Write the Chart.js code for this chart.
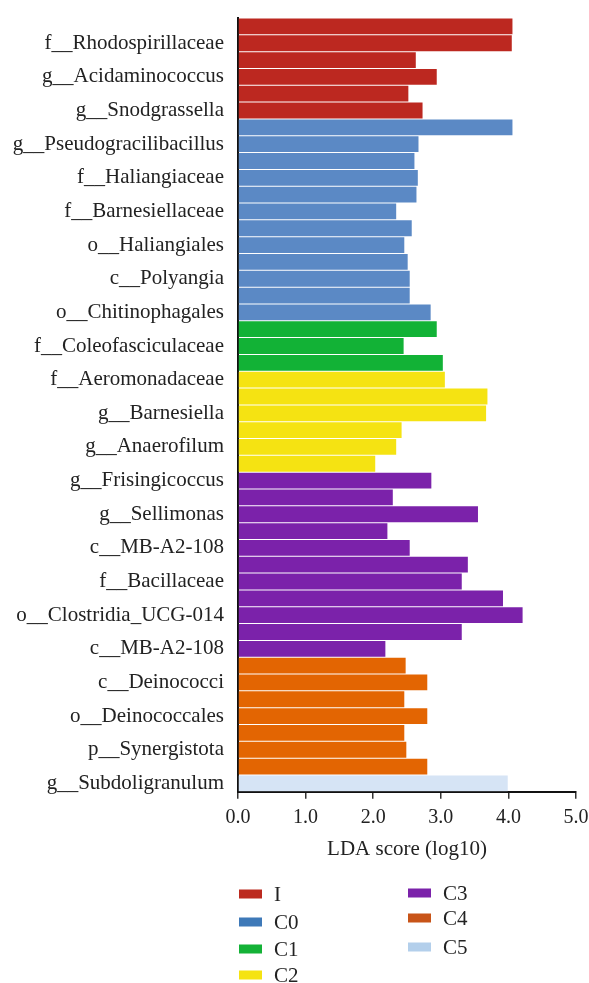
<!DOCTYPE html>
<html>
<head>
<meta charset="utf-8">
<script src="https://cdn.jsdelivr.net/npm/chart.js@4/dist/chart.umd.min.js"></script>
<style>
  html, body { margin: 0; padding: 0; background: #ffffff; }
  #wrap { position: relative; width: 589px; height: 983px; }
</style>
</head>
<body>
<div id="wrap"><canvas id="lda" width="589" height="983"></canvas></div>
<script>
// Labelled taxa (one label for every second bar, top to bottom)
const taxa = [
  'f__Rhodospirillaceae', 'g__Acidaminococcus', 'g__Snodgrassella',
  'g__Pseudogracilibacillus', 'f__Haliangiaceae', 'f__Barnesiellaceae',
  'o__Haliangiales', 'c__Polyangia', 'o__Chitinophagales',
  'f__Coleofasciculaceae', 'f__Aeromonadaceae', 'g__Barnesiella',
  'g__Anaerofilum', 'g__Frisingicoccus', 'g__Sellimonas', 'c__MB-A2-108',
  'f__Bacillaceae', 'o__Clostridia_UCG-014', 'c__MB-A2-108',
  'c__Deinococci', 'o__Deinococcales', 'p__Synergistota', 'g__Subdoligranulum'
];

// LDA scores (log10) per group, in bar order
const scoresI  = [4.06, 4.05, 2.63, 2.94, 2.52, 2.73];
const scoresC0 = [4.06, 2.67, 2.61, 2.66, 2.64, 2.34, 2.57, 2.46, 2.51, 2.54, 2.54, 2.85];
const scoresC1 = [2.94, 2.45, 3.03];
const scoresC2 = [3.06, 3.69, 3.67, 2.42, 2.34, 2.03];
const scoresC3 = [2.86, 2.29, 3.55, 2.21, 2.54, 3.40, 3.31, 3.92, 4.21, 3.31, 2.18];
const scoresC4 = [2.48, 2.80, 2.46, 2.80, 2.46, 2.49, 2.80];
const scoresC5 = [3.99];

const groupNames  = ['I', 'C0', 'C1', 'C2', 'C3', 'C4', 'C5'];
const groupScores = [scoresI, scoresC0, scoresC1, scoresC2, scoresC3, scoresC4, scoresC5];
const barColors    = ['#bc2820', '#5b89c5', '#12b236', '#f5e312', '#7b22aa', '#e36502', '#d6e4f5'];
const legendColors = ['#bc2a1f', '#3e79b8', '#14b237', '#f5e312', '#7b22aa', '#c85418', '#b3cfeb'];

const xTicks = [0, 1, 2, 3, 4, 5];

// Category axis: every bar gets a slot, only every second one carries a name
const categories = [];
taxa.forEach(name => { categories.push(''); categories.push(name); });

// One dataset per group, null outside its own run of bars
const datasets = [];
let offset = 0;
groupScores.forEach((vals, g) => {
  const data = new Array(categories.length).fill(null);
  vals.forEach((v, i) => { data[offset + i] = v; });
  offset += vals.length;
  datasets.push({
    label: groupNames[g],
    data: data,
    backgroundColor: barColors[g],
    borderWidth: 0,
    barPercentage: 0.94,
    categoryPercentage: 1.0
  });
});

const FONT = 'Liberation Serif';

// Two-column legend underneath the axis title
const columnLegend = {
  id: 'columnLegend',
  afterDraw(chart) {
    const ctx = chart.ctx;
    const slots = [
      [239, 894], [239, 922], [239, 949], [239, 975],
      [408, 893], [408, 918], [408, 947]
    ];
    ctx.save();
    ctx.font = '21px "' + FONT + '"';
    ctx.textBaseline = 'middle';
    ctx.textAlign = 'left';
    groupNames.forEach((name, i) => {
      const [x, y] = slots[i];
      ctx.fillStyle = legendColors[i];
      ctx.fillRect(x, y - 4.5, 23, 9);
      ctx.fillStyle = '#222222';
      ctx.fillText(name, x + 35, y + 1);
    });
    ctx.restore();
  }
};

new Chart(document.getElementById('lda'), {
  type: 'bar',
  data: { labels: categories, datasets: datasets },
  options: {
    indexAxis: 'y',
    responsive: false,
    animation: false,
    devicePixelRatio: 1,
    layout: { padding: { top: 18, right: 13, bottom: 121, left: 0 } },
    plugins: {
      legend: { display: false },
      tooltip: { enabled: false }
    },
    scales: {
      y: {
        stacked: true,
        z: 1,
        grid: { display: false, drawTicks: false },
        border: { display: true, color: '#111111', width: 2 },
        ticks: {
          autoSkip: false,
          padding: 14,
          color: '#222222',
          font: { family: FONT, size: 21 }
        },
        afterFit(scale) {
          scale.width = 238;
          scale.paddingTop = 0;
          scale.paddingBottom = 0;
        }
      },
      x: {
        stacked: true,
        z: 1,
        min: 0,
        max: 5,
        afterBuildTicks(scale) { scale.ticks = xTicks.map(v => ({ value: v })); },
        afterFit(scale) { scale.paddingLeft = 0; scale.paddingRight = 0; },
        grid: {
          display: true,
          drawOnChartArea: false,
          drawTicks: true,
          tickLength: 7,
          color: '#333333',
          lineWidth: 1.5
        },
        border: { display: true, color: '#111111', width: 2 },
        ticks: {
          padding: 14,
          color: '#222222',
          font: { family: FONT, size: 20, lineHeight: 0.5 },
          callback: v => Number(v).toFixed(1)
        },
        title: {
          display: true,
          text: 'LDA score (log10)',
          color: '#222222',
          font: { family: FONT, size: 21 },
          padding: { top: 0, bottom: 0 }
        }
      }
    }
  },
  plugins: [columnLegend]
});
</script>
</body>
</html>
